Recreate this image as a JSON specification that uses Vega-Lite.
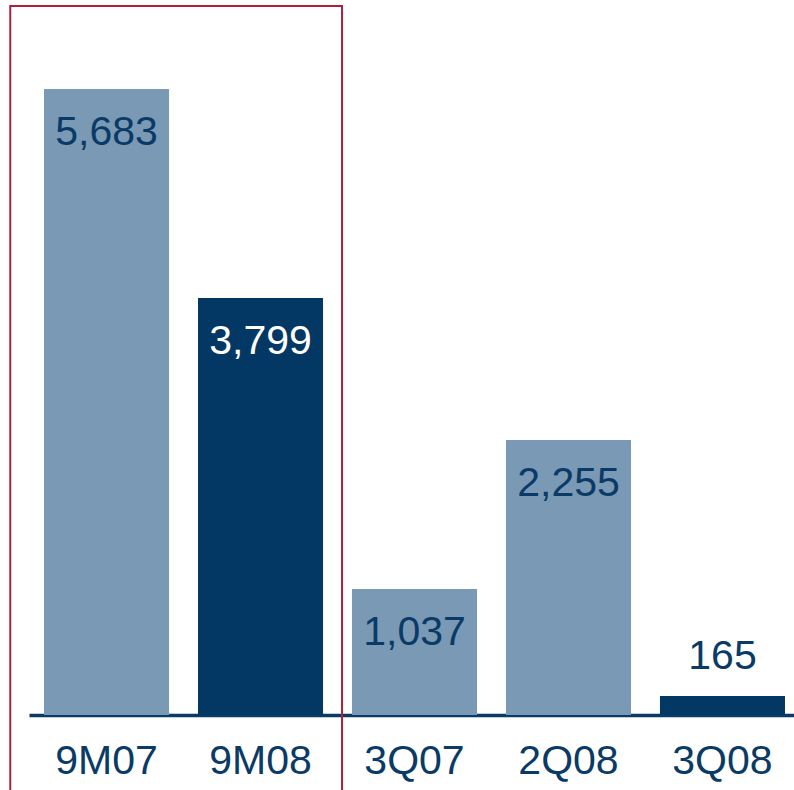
{
  "$schema": "https://vega.github.io/schema/vega-lite/v6.json",
  "width": 765,
  "height": 715,
  "padding": {"left": 29, "top": 0, "right": 0, "bottom": 75},
  "autosize": {"type": "none"},
  "config": {"view": {"stroke": null}, "font": "Liberation Sans"},
  "data": {
    "values": [
      {"period": "9M07", "value": 5683, "bar": 5683, "current": "no"},
      {"period": "9M08", "value": 3799, "bar": 3786, "current": "yes"},
      {"period": "3Q07", "value": 1037, "bar": 1144, "current": "no"},
      {"period": "2Q08", "value": 2255, "bar": 2497, "current": "no"},
      {"period": "3Q08", "value": 165, "bar": 172, "current": "yes"}
    ]
  },
  "layer": [
    {
      "mark": {"type": "bar"},
      "encoding": {
        "x": {
          "field": "period", "type": "nominal",
          "scale": {"domain": ["9M07", "9M08", "3Q07", "2Q08", "3Q08"], "paddingInner": 0.188, "paddingOuter": 0.078, "align": 0.625},
          "axis": {"title": null, "domainColor": "#0a3a66", "domainWidth": 3.5, "ticks": false, "labelFontSize": 41, "labelColor": "#0a3a66", "labelPadding": 58, "labelBaseline": "alphabetic", "labelAngle": 0, "grid": false}
        },
        "y": {"field": "bar", "type": "quantitative", "scale": {"domain": [0, 6491], "nice": false}, "axis": null},
        "color": {"field": "current", "type": "nominal", "scale": {"domain": ["no", "yes"], "range": ["#7a99b5", "#033764"]}, "legend": null}
      }
    },
    {
      "transform": [{"filter": "datum.period != '3Q08'"}],
      "mark": {"type": "text", "baseline": "alphabetic", "align": "center", "dy": 56, "fontSize": 41},
      "encoding": {
        "x": {"field": "period", "type": "nominal"},
        "y": {"field": "bar", "type": "quantitative"},
        "text": {"field": "value", "type": "quantitative", "format": ","},
        "color": {"condition": {"test": "datum.current == 'yes'", "value": "#ffffff"}, "value": "#0a3a66"}
      }
    },
    {
      "transform": [{"filter": "datum.period == '3Q08'"}],
      "mark": {"type": "text", "baseline": "alphabetic", "align": "center", "dy": -27, "fontSize": 41, "color": "#0a3a66"},
      "encoding": {
        "x": {"field": "period", "type": "nominal"},
        "y": {"field": "bar", "type": "quantitative"},
        "text": {"field": "value", "type": "quantitative", "format": ","}
      }
    },
    {
      "data": {"values": [{"first": "9M07", "last": "9M08", "top": 6437, "bottom": -726}]},
      "mark": {"type": "rect", "fillOpacity": 0, "fill": "#ffffff", "stroke": "#b01e3c", "strokeWidth": 2, "clip": false},
      "encoding": {
        "x": {"field": "first", "type": "nominal", "bandPosition": -0.27},
        "x2": {"field": "last", "bandPosition": 1.152},
        "y": {"field": "top", "type": "quantitative"},
        "y2": {"field": "bottom"}
      }
    }
  ]
}
